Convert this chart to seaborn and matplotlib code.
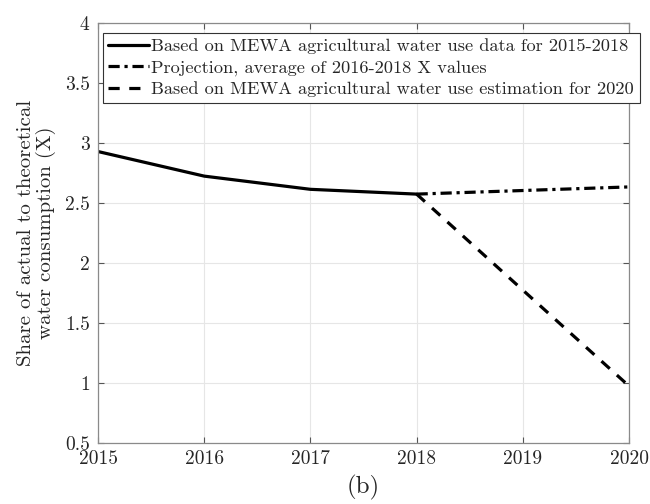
import matplotlib
matplotlib.use("Agg")
import matplotlib.pyplot as plt
import seaborn as sns
import pandas as pd

years_obs = [2015, 2016, 2017, 2018]
x_obs = [2.93, 2.725, 2.615, 2.575]
years_proj = [2018, 2019, 2020]
x_proj = [2.575, 2.605, 2.635]
x_est = [2.575, 1.775, 0.975]
labels = ["Based on MEWA agricultural water use data for 2015-2018",
          "Projection, average of 2016-2018 X values",
          "Based on MEWA agricultural water use estimation for 2020"]
yticks = [0.5, 1, 1.5, 2, 2.5, 3, 3.5, 4]
ytick_labels = ["0.5", "1", "1.5", "2", "2.5", "3", "3.5", "4"]
xticks = [2015, 2016, 2017, 2018, 2019, 2020]

sns.set_style("white")
plt.rcParams['font.family'] = ['cmr10', 'DejaVu Serif']
plt.rcParams['axes.formatter.use_mathtext'] = True
plt.rcParams['mathtext.fontset'] = 'cm'

fig = plt.figure(figsize=(6.5, 5.04), dpi=100)
ax = fig.add_axes([0.1508, 0.121, 0.8169, 0.833])

df1 = pd.DataFrame({"year": years_obs, "x": x_obs})
df2 = pd.DataFrame({"year": years_proj, "x": x_proj})
df3 = pd.DataFrame({"year": years_proj, "x": x_est})

sns.lineplot(data=df1, x="year", y="x", ax=ax, color="black", lw=2.3, label=labels[0])
sns.lineplot(data=df2, x="year", y="x", ax=ax, color="black", lw=2.3, label=labels[1],
             linestyle=(0, (3.5, 1.5, 1, 1.5)))
sns.lineplot(data=df3, x="year", y="x", ax=ax, color="black", lw=2.3, label=labels[2],
             linestyle=(0, (3.5, 3)))

ax.set_xlim(2015, 2020)
ax.set_ylim(0.5, 4)
ax.set_xticks(xticks)
ax.set_xticklabels([str(v) for v in xticks])
ax.set_yticks(yticks)
ax.set_yticklabels(ytick_labels)
ax.grid(True, color="#e6e6e6", lw=0.8)
ax.tick_params(direction="in", length=4, width=0.8, color="#555555", labelsize=14,
               top=True, right=True, bottom=True, left=True)
ax.tick_params(axis="x", pad=5)
ax.tick_params(axis="y", pad=6)
for s in ax.spines.values():
    s.set_color("#8a8a8a")
    s.set_linewidth(0.9)

ax.set_xlabel("(b)", fontsize=18, labelpad=5)
ax.set_ylabel("Share of actual to theoretical\nwater consumption (X)", fontsize=15,
              linespacing=1.1, labelpad=6)

leg = ax.legend(loc="upper left", bbox_to_anchor=(0.009, 0.977), fontsize=13.2,
                frameon=True, fancybox=False, edgecolor="#333333", framealpha=1,
                handlelength=2.2, handletextpad=0.15, borderpad=0.3, labelspacing=0.3,
                borderaxespad=0)
leg.get_frame().set_linewidth(0.8)

fig.savefig("out.png", dpi=100)
